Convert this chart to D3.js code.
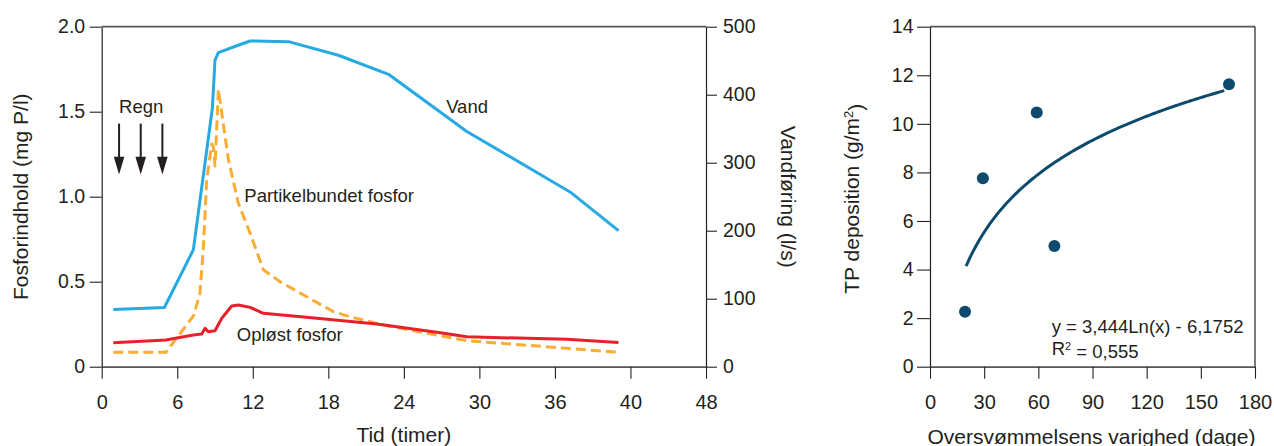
<!DOCTYPE html>
<html>
<head>
<meta charset="utf-8">
<script src="https://cdn.jsdelivr.net/npm/d3@7"></script>
<style>
  html, body { margin: 0; padding: 0; background: #fff; }
  svg text { font-family: "Liberation Sans", Arial, Helvetica, sans-serif; fill: #231f20; }
</style>
</head>
<body>
<svg id="chart" width="1274" height="446"></svg>
<script>
// ---------- DATA ----------
// Left chart: time (hours) vs concentration (mg P/l) and discharge (l/s)
const vandHours   = [0.92, 4.98, 7.28, 8.79, 9.0, 9.27, 10.73, 11.79, 14.83, 18.8, 22.78, 29.0, 37.2, 41.05];
const vandValues  = [84, 87, 172, 380, 451, 462, 472, 479, 478, 458, 430, 346, 257, 200];

const partHours   = [0.92, 5.1, 7.3, 7.8, 8.07, 8.34, 8.74, 8.87, 9.0, 9.27, 9.54, 10.06, 10.86, 11.79, 12.84, 14.17, 16.55, 18.4, 19.7, 22.4, 26.3, 29.0, 36.95, 41.05];
const partValues  = [0.085, 0.085, 0.30, 0.43, 0.69, 1.10, 1.31, 1.29, 1.18, 1.63, 1.49, 1.22, 0.96, 0.785, 0.57, 0.50, 0.40, 0.324, 0.294, 0.245, 0.19, 0.153, 0.108, 0.085];

const oplHours    = [0.92, 5.09, 7.28, 7.95, 8.21, 8.47, 9.0, 9.54, 10.33, 10.86, 11.79, 12.84, 17.09, 21.85, 26.9, 29.0, 36.95, 41.05];
const oplValues   = [0.141, 0.157, 0.186, 0.192, 0.226, 0.206, 0.212, 0.285, 0.357, 0.363, 0.349, 0.314, 0.285, 0.251, 0.200, 0.176, 0.161, 0.143];

const xTickValues = [0, 6, 12, 18, 24, 30, 36, 42, 48];
const xTickLabels = ["0", "6", "12", "18", "24", "30", "36", "40", "48"];
const yLeftTicks  = [0, 0.5, 1.0, 1.5, 2.0];
const yLeftLabels = ["0", "0.5", "1.0", "1.5", "2.0"];
const yRightTicks = [0, 100, 200, 300, 400, 500];

const rainHours   = [1.38, 3.1, 4.82];        // "Regn" arrows
const rainRange   = [1.43, 1.235, 1.13];      // arrow top, head start, tip (mg P/l units)

const leftLabels  = ["Regn", "Partikelbundet fosfor", "Opløst fosfor", "Vand"];
const leftLabelX  = [1.38, 11.33, 10.73, 27.36];
const leftLabelY  = [1.49, 0.969, 0.153, 1.49];

// Right chart: flood duration (days) vs TP deposition (g/m2)
const floodDays   = [19.4, 29.3, 59.1, 68.9, 165.6];
const tpDeposit   = [2.26, 7.76, 10.47, 4.97, 11.63];
const trendCoef   = [3.444, -6.1752];           // y = a*ln(x) + b (as printed on the chart)
const trendRange  = [20, 163];
const xTicksR     = [0, 30, 60, 90, 120, 150, 180];
const yTicksR     = [0, 2, 4, 6, 8, 10, 12, 14];
const eqLines     = ["y = 3,444Ln(x) - 6,1752", "R² = 0,555"];

// ---------- DRAW ----------
const svg = d3.select("#chart");
const TXT = "#231f20";

// Left plot geometry
const L = { x0: 101.7, x1: 706, y0: 26.7, y1: 366.7 };
const x = d3.scaleLinear().domain([0, 48]).range([L.x0, L.x1]);
const yL = d3.scaleLinear().domain([0, 2]).range([L.y1, L.y0]);
const yR = d3.scaleLinear().domain([0, 500]).range([L.y1, L.y0]);

// frame top
svg.append("line").attr("x1", L.x0).attr("x2", L.x1).attr("y1", L.y0).attr("y2", L.y0)
  .attr("stroke", "#555").attr("stroke-width", 1.7);

function styleAxis(g, size) {
  g.selectAll("text").style("font-size", size + "px").attr("fill", TXT);
  g.selectAll(".tick line").attr("stroke", "#222").attr("stroke-width", 1.1);
}

const gxL = svg.append("g").attr("transform", `translate(0,${L.y1})`)
  .call(d3.axisBottom(x).tickValues(xTickValues).tickFormat((d, i) => xTickLabels[i])
    .tickSize(12).tickSizeOuter(0).tickPadding(16));
gxL.select(".domain").attr("stroke", "#555").attr("stroke-width", 1.7);
styleAxis(gxL, 20);

const gyL = svg.append("g").attr("transform", `translate(${L.x0},0)`)
  .call(d3.axisLeft(yL).tickValues(yLeftTicks).tickFormat((d, i) => yLeftLabels[i])
    .tickSize(12).tickSizeOuter(0).tickPadding(4.5));
gyL.select(".domain").attr("stroke", "#222").attr("stroke-width", 1.2);
styleAxis(gyL, 19.5);

const gyR = svg.append("g").attr("transform", `translate(${L.x1},0)`)
  .call(d3.axisRight(yR).tickValues(yRightTicks).tickFormat(d3.format("d"))
    .tickSize(11).tickSizeOuter(0).tickPadding(6));
gyR.select(".domain").attr("stroke", "#222").attr("stroke-width", 1.2);
styleAxis(gyR, 19.5);

// axis titles
svg.append("text").attr("transform", `translate(27.5,${(L.y0 + L.y1) / 2}) rotate(-90)`)
  .attr("text-anchor", "middle").style("font-size", "21px").text("Fosforindhold (mg P/l)");
svg.append("text").attr("transform", `translate(781,${(L.y0 + L.y1) / 2}) rotate(90)`)
  .attr("text-anchor", "middle").style("font-size", "21px").text("Vandføring (l/s)");
svg.append("text").attr("x", (L.x0 + L.x1) / 2).attr("y", 441.7)
  .attr("text-anchor", "middle").style("font-size", "21px").text("Tid (timer)");

// lines
const lineVand = d3.line().x(d => x(d[0])).y(d => yR(d[1]));
const lineP = d3.line().x(d => x(d[0])).y(d => yL(d[1]));

svg.append("path").datum(vandHours.map((h, i) => [h, vandValues[i]]))
  .attr("d", lineVand).attr("fill", "none").attr("stroke", "#27a9e1")
  .attr("stroke-width", 3).attr("stroke-linejoin", "round");

svg.append("path").datum(partHours.map((h, i) => [h, partValues[i]]))
  .attr("d", lineP).attr("fill", "none").attr("stroke", "#fbac35")
  .attr("stroke-width", 3).attr("stroke-dasharray", "10,5").attr("stroke-linejoin", "round");

svg.append("path").datum(oplHours.map((h, i) => [h, oplValues[i]]))
  .attr("d", lineP).attr("fill", "none").attr("stroke", "#e8202a")
  .attr("stroke-width", 3).attr("stroke-linejoin", "round");

// rain arrows
rainHours.forEach(h => {
  const cx = x(h);
  svg.append("line").attr("x1", cx).attr("x2", cx).attr("y1", yL(rainRange[0])).attr("y2", yL(rainRange[1]) + 1)
    .attr("stroke", "#231f20").attr("stroke-width", 2);
  svg.append("path")
    .attr("d", `M${cx - 5.3},${yL(rainRange[1])} L${cx + 5.3},${yL(rainRange[1])} L${cx},${yL(rainRange[2])} Z`)
    .attr("fill", "#231f20");
});

// annotations
leftLabels.forEach((t, i) => {
  svg.append("text").attr("x", x(leftLabelX[i])).attr("y", yL(leftLabelY[i]))
    .style("font-size", "18.5px").text(t);
});

// ---------- Right chart ----------
const R = { x0: 930, x1: 1255, y0: 26.7, y1: 366.7 };
const xr = d3.scaleLinear().domain([0, 180]).range([R.x0, R.x1]);
const yr = d3.scaleLinear().domain([0, 14]).range([R.y1, R.y0]);

svg.append("line").attr("x1", R.x0).attr("x2", R.x1).attr("y1", R.y0).attr("y2", R.y0)
  .attr("stroke", "#555").attr("stroke-width", 1.7);
svg.append("line").attr("x1", R.x1).attr("x2", R.x1).attr("y1", R.y0).attr("y2", R.y1)
  .attr("stroke", "#222").attr("stroke-width", 1.2);

const gxR = svg.append("g").attr("transform", `translate(0,${R.y1})`)
  .call(d3.axisBottom(xr).tickValues(xTicksR).tickFormat(d3.format("d"))
    .tickSize(12).tickSizeOuter(0).tickPadding(16));
gxR.select(".domain").attr("stroke", "#555").attr("stroke-width", 1.7);
styleAxis(gxR, 20);

const gyRr = svg.append("g").attr("transform", `translate(${R.x0},0)`)
  .call(d3.axisLeft(yr).tickValues(yTicksR).tickFormat(d3.format("d"))
    .tickSize(13).tickSizeOuter(0).tickPadding(3.5));
gyRr.select(".domain").attr("stroke", "#222").attr("stroke-width", 1.2);
styleAxis(gyRr, 19.5);

const tTitle = svg.append("text").attr("transform", `translate(859,${(R.y0 + R.y1) / 2 + 2}) rotate(-90)`)
  .attr("text-anchor", "middle").style("font-size", "21px");
tTitle.append("tspan").text("TP deposition (g/m");
tTitle.append("tspan").attr("dy", "-0.45em").style("font-size", "13px").text("2");
tTitle.append("tspan").attr("dy", "0.45em").text(")");

svg.append("text").attr("x", (R.x0 + R.x1) / 2 - 1).attr("y", 443.5)
  .attr("text-anchor", "middle").style("font-size", "21px").text("Oversvømmelsens varighed (dage)");

// trend line
const trendX = d3.range(trendRange[0], trendRange[1] + 0.001, 1);
svg.append("path").datum(trendX.map(d => [d, trendCoef[0] * Math.log(d) + trendCoef[1]]))
  .attr("d", d3.line().x(d => xr(d[0])).y(d => yr(d[1])))
  .attr("fill", "none").attr("stroke", "#0d4a6d").attr("stroke-width", 3);

// points
svg.append("g").selectAll("circle").data(floodDays.map((d, i) => [d, tpDeposit[i]]))
  .join("circle").attr("cx", d => xr(d[0])).attr("cy", d => yr(d[1])).attr("r", 6)
  .attr("fill", "#0d4a6d");

// equation
const eq = svg.append("text").attr("x", 1051.7).attr("y", 333.3).style("font-size", "18.5px");
eq.text(eqLines[0]);
const r2 = svg.append("text").attr("x", 1051.7).attr("y", 355).style("font-size", "18.5px");
r2.append("tspan").text("R");
r2.append("tspan").attr("dy", "-0.45em").style("font-size", "11px").text("2");
r2.append("tspan").attr("dy", "0.45em").text(eqLines[1].slice(2));
</script>
</body>
</html>
